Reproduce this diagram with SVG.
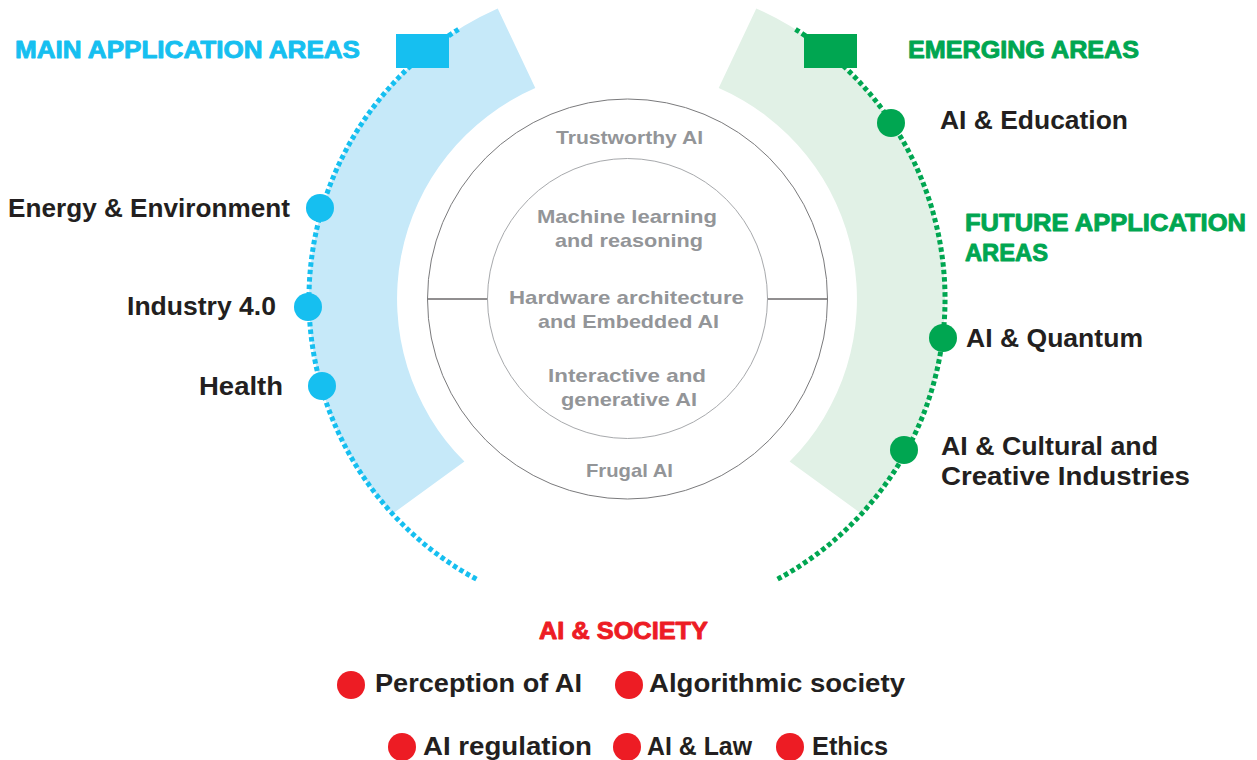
<svg xmlns="http://www.w3.org/2000/svg" width="1257" height="760" viewBox="0 0 1257 760">
<style>
.lbl{font-family:"Liberation Sans",Arial,sans-serif;font-weight:bold;font-size:25px;fill:#231f20}
.hd{font-family:"Liberation Sans",Arial,sans-serif;font-weight:bold;font-size:24px;stroke-width:0.9;stroke-linejoin:round}
.ctr{font-family:"Liberation Sans",Arial,sans-serif;font-weight:bold;font-size:19px;fill:#939598;text-anchor:middle}
.blue{fill:#16bff0;stroke:#16bff0}
.green{fill:#00a651;stroke:#00a651}
.red{fill:#ed1c24;stroke:#ed1c24}
circle.blue,circle.green,circle.red,rect.blue,rect.green{stroke:none}
.dotB{fill:none;stroke:#16bff0;stroke-width:5;stroke-dasharray:4.5 3}
.dotG{fill:none;stroke:#00a651;stroke-width:5;stroke-dasharray:4.5 3}
</style>
<rect width="1257" height="760" fill="#ffffff"/>
<g id="bands">
<path d="M497.7,8.5 A318,318 0 0 0 392.5,513.8 L464.4,461.6 A230,230 0 0 1 535.3,88.1 Z" fill="#c6e9f9"/>
<path d="M756.3,8.5 A318,318 0 0 1 861.5,513.8 L789.6,461.6 A230,230 0 0 0 718.7,88.1 Z" fill="#e1f1e6"/>
</g>
<g id="connectors">
<path class="dotB" d="M458.5,29.3 A318,318 0 0 0 477.7,579.8"/>
<path class="dotG" d="M795.5,29.3 A318,318 0 0 1 776.3,579.8"/>
<line x1="427" y1="299" x2="488" y2="299" stroke="#231f20" stroke-width="1"/>
<line x1="767" y1="299" x2="828" y2="299" stroke="#231f20" stroke-width="1"/>
</g>
<g id="core">
<circle cx="627.5" cy="299" r="200" fill="none" stroke="#7a7a7c" stroke-width="1"/>
<circle cx="627.5" cy="298.5" r="140" fill="none" stroke="#a7a9ac" stroke-width="1"/>
<text class="ctr" x="629.5" y="144" textLength="147" lengthAdjust="spacingAndGlyphs">Trustworthy AI</text>
<text class="ctr" x="627" y="223" textLength="180" lengthAdjust="spacingAndGlyphs">Machine learning</text>
<text class="ctr" x="629" y="247" textLength="148" lengthAdjust="spacingAndGlyphs">and reasoning</text>
<text class="ctr" x="626.5" y="304" textLength="235" lengthAdjust="spacingAndGlyphs">Hardware architecture</text>
<text class="ctr" x="628.5" y="328" textLength="181" lengthAdjust="spacingAndGlyphs">and Embedded AI</text>
<text class="ctr" x="627" y="382" textLength="158" lengthAdjust="spacingAndGlyphs">Interactive and</text>
<text class="ctr" x="629" y="406" textLength="136" lengthAdjust="spacingAndGlyphs">generative AI</text>
<text class="ctr" x="629.5" y="477" textLength="87" lengthAdjust="spacingAndGlyphs">Frugal AI</text>
</g>
<g id="main-areas">
<rect class="blue" x="396" y="34" width="53" height="34"/>
<text class="hd blue" x="15" y="58" textLength="345" lengthAdjust="spacingAndGlyphs">MAIN APPLICATION AREAS</text>
</g>
<g id="energy">
<circle class="blue" cx="320" cy="208" r="14"/>
<text class="lbl" x="8" y="217" textLength="282" lengthAdjust="spacingAndGlyphs">Energy &amp; Environment</text>
</g>
<g id="industry">
<circle class="blue" cx="308" cy="307" r="14"/>
<text class="lbl" x="127" y="315" textLength="149" lengthAdjust="spacingAndGlyphs">Industry 4.0</text>
</g>
<g id="health">
<circle class="blue" cx="322" cy="386" r="14"/>
<text class="lbl" x="199" y="395" textLength="84" lengthAdjust="spacingAndGlyphs">Health</text>
</g>
<g id="emerging-areas">
<rect class="green" x="804" y="34" width="53" height="34"/>
<text class="hd green" x="908" y="58" textLength="231" lengthAdjust="spacingAndGlyphs">EMERGING AREAS</text>
</g>
<g id="education">
<circle class="green" cx="891" cy="123" r="14"/>
<text class="lbl" x="940" y="129" textLength="188" lengthAdjust="spacingAndGlyphs">AI &amp; Education</text>
</g>
<g id="future-areas">
<text class="hd green" x="965" y="231" textLength="281" lengthAdjust="spacingAndGlyphs">FUTURE APPLICATION</text>
<text class="hd green" x="965" y="261" textLength="83" lengthAdjust="spacingAndGlyphs">AREAS</text>
</g>
<g id="quantum">
<circle class="green" cx="943" cy="338" r="14"/>
<text class="lbl" x="966" y="347" textLength="177" lengthAdjust="spacingAndGlyphs">AI &amp; Quantum</text>
</g>
<g id="cultural">
<circle class="green" cx="904" cy="450" r="14"/>
<text class="lbl" x="941" y="455" textLength="217" lengthAdjust="spacingAndGlyphs">AI &amp; Cultural and</text>
<text class="lbl" x="941" y="485" textLength="249" lengthAdjust="spacingAndGlyphs">Creative Industries</text>
</g>
<g id="society">
<text class="hd red" x="539" y="639" textLength="169" lengthAdjust="spacingAndGlyphs">AI &amp; SOCIETY</text>
</g>
<g id="perception">
<circle class="red" cx="351" cy="685" r="14"/>
<text class="lbl" x="375" y="692" textLength="207" lengthAdjust="spacingAndGlyphs">Perception of AI</text>
</g>
<g id="algorithmic">
<circle class="red" cx="629" cy="685" r="14"/>
<text class="lbl" x="649" y="692" textLength="256" lengthAdjust="spacingAndGlyphs">Algorithmic society</text>
</g>
<g id="regulation">
<circle class="red" cx="402" cy="747" r="14"/>
<text class="lbl" x="423" y="755" textLength="169" lengthAdjust="spacingAndGlyphs">AI regulation</text>
</g>
<g id="law">
<circle class="red" cx="627" cy="747" r="14"/>
<text class="lbl" x="647" y="755" textLength="105" lengthAdjust="spacingAndGlyphs">AI &amp; Law</text>
</g>
<g id="ethics">
<circle class="red" cx="790" cy="747" r="14"/>
<text class="lbl" x="812" y="755" textLength="76" lengthAdjust="spacingAndGlyphs">Ethics</text>
</g>
</svg>
